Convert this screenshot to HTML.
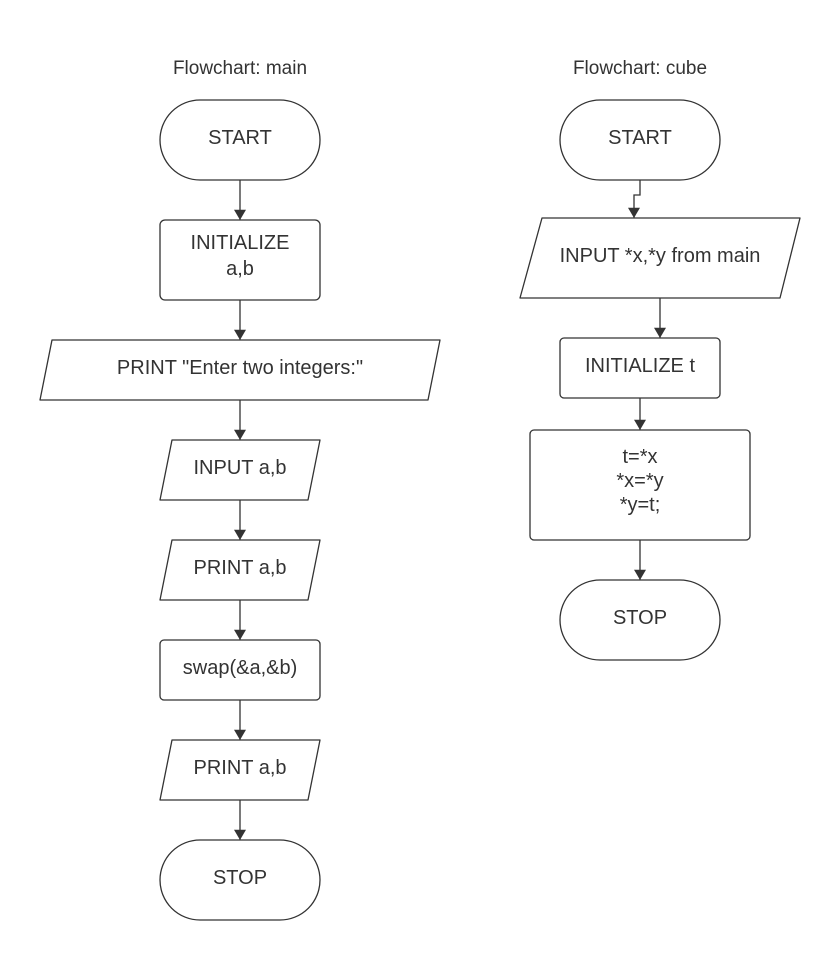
<!DOCTYPE html>
<html><head><style>body{margin:0;background:#fff}svg{display:block}</style></head><body>
<svg width="840" height="960" viewBox="0 0 840 960" xmlns="http://www.w3.org/2000/svg" font-family="Liberation Sans, sans-serif" fill="#333">
<defs><marker id="a" viewBox="0 0 12 14" refX="12" refY="7" markerWidth="14" markerHeight="12" markerUnits="userSpaceOnUse" orient="auto"><path d="M0,0L12,7L0,14z" fill="#333"/></marker></defs>
<g fill="none" stroke="#333" stroke-width="1.3">
<rect x="160" y="100" width="160" height="80" rx="40"/>
<rect x="160" y="220" width="160" height="80" rx="5"/>
<path d="M52,340H440L428,400H40Z" stroke-linejoin="round"/>
<path d="M172,440H320L308,500H160Z" stroke-linejoin="round"/>
<path d="M172,540H320L308,600H160Z" stroke-linejoin="round"/>
<rect x="160" y="640" width="160" height="60" rx="4"/>
<path d="M172,740H320L308,800H160Z" stroke-linejoin="round"/>
<rect x="160" y="840" width="160" height="80" rx="40"/>
<line x1="240" y1="180" x2="240" y2="220" marker-end="url(#a)"/>
<line x1="240" y1="300" x2="240" y2="340" marker-end="url(#a)"/>
<line x1="240" y1="400" x2="240" y2="440" marker-end="url(#a)"/>
<line x1="240" y1="500" x2="240" y2="540" marker-end="url(#a)"/>
<line x1="240" y1="600" x2="240" y2="640" marker-end="url(#a)"/>
<line x1="240" y1="700" x2="240" y2="740" marker-end="url(#a)"/>
<line x1="240" y1="800" x2="240" y2="840" marker-end="url(#a)"/>
<rect x="560" y="100" width="160" height="80" rx="40"/>
<path d="M542,218H800L780,298H520Z" stroke-linejoin="round"/>
<rect x="560" y="338" width="160" height="60" rx="4"/>
<rect x="530" y="430" width="220" height="110" rx="4"/>
<rect x="560" y="580" width="160" height="80" rx="40"/>
<path d="M640,180V195H634V218" marker-end="url(#a)"/>
<line x1="660" y1="298" x2="660" y2="338" marker-end="url(#a)"/>
<line x1="640" y1="398" x2="640" y2="430" marker-end="url(#a)"/>
<line x1="640" y1="540" x2="640" y2="580" marker-end="url(#a)"/>
</g>
<g font-size="20" text-anchor="middle">
<text x="240" y="74" font-size="19">Flowchart: main</text>
<text x="640" y="74" font-size="19">Flowchart: cube</text>
<text x="240" y="144">START</text>
<text x="240" y="249">INITIALIZE</text>
<text x="240" y="275">a,b</text>
<text x="240" y="374">PRINT "Enter two integers:"</text>
<text x="240" y="474">INPUT a,b</text>
<text x="240" y="574">PRINT a,b</text>
<text x="240" y="674">swap(&amp;a,&amp;b)</text>
<text x="240" y="774">PRINT a,b</text>
<text x="240" y="884">STOP</text>
<text x="640" y="144">START</text>
<text x="660" y="262">INPUT *x,*y from main</text>
<text x="640" y="372">INITIALIZE t</text>
<text x="640" y="463">t=*x</text>
<text x="640" y="487">*x=*y</text>
<text x="640" y="511">*y=t;</text>
<text x="640" y="624">STOP</text>
</g>
</svg>
</body></html>
